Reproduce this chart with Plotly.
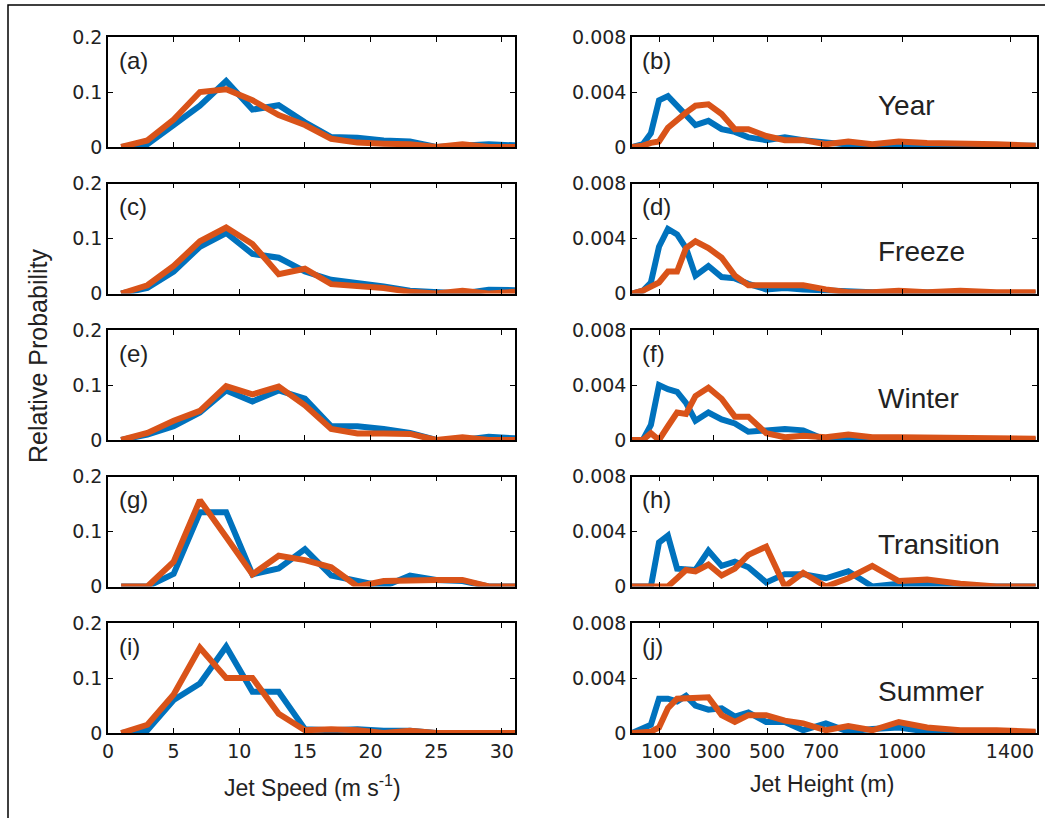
import plotly.graph_objects as go
from plotly.subplots import make_subplots

# ---------------- data ----------------
speed = [1, 3, 5, 7, 9, 11, 13, 15, 17, 19, 21, 23, 25, 27, 29, 31]
height = [0, 40, 70, 100, 133, 167, 200, 235, 283, 332, 381, 431, 497, 566,
          634, 718, 801, 890, 988, 1093, 1216, 1350, 1495]

seasons = ["Year", "Freeze", "Winter", "Transition", "Summer"]
left_labels = ["(a)", "(c)", "(e)", "(g)", "(i)"]
right_labels = ["(b)", "(d)", "(f)", "(h)", "(j)"]

# Jet speed distributions (blue / orange)
speed_blue_year = [0, 0.005, 0.04, 0.075, 0.12, 0.068, 0.076, 0.045, 0.018, 0.017, 0.012, 0.01, 0.0, 0.002, 0.005, 0.003]
speed_orange_year = [0, 0.012, 0.05, 0.1, 0.105, 0.085, 0.058, 0.04, 0.015, 0.008, 0.006, 0.005, 0.0, 0.005, 0.0, 0.0]
speed_blue_freeze = [0, 0.01, 0.04, 0.085, 0.11, 0.072, 0.065, 0.04, 0.025, 0.02, 0.013, 0.005, 0.003, 0.0, 0.007, 0.006]
speed_orange_freeze = [0, 0.015, 0.05, 0.095, 0.12, 0.09, 0.035, 0.045, 0.017, 0.014, 0.01, 0.003, 0.0, 0.005, 0.0, 0.003]
speed_blue_winter = [0, 0.01, 0.025, 0.05, 0.09, 0.07, 0.09, 0.075, 0.025, 0.025, 0.02, 0.013, 0.0, 0.0, 0.006, 0.003]
speed_orange_winter = [0, 0.013, 0.035, 0.053, 0.098, 0.083, 0.097, 0.063, 0.02, 0.012, 0.012, 0.011, 0.0, 0.005, 0.0, 0.0]
speed_blue_trans = [0, 0, 0.023, 0.135, 0.135, 0.022, 0.033, 0.068, 0.02, 0.01, 0.0, 0.02, 0.012, 0.01, 0.0, 0.0]
speed_orange_trans = [0, 0, 0.045, 0.157, 0.09, 0.022, 0.056, 0.048, 0.035, 0.0, 0.01, 0.012, 0.012, 0.012, 0.0, 0.0]
speed_blue_summer = [0, 0.005, 0.06, 0.09, 0.157, 0.075, 0.075, 0.007, 0.005, 0.007, 0.004, 0.004, 0.0, 0.0, 0.0, 0.0]
speed_orange_summer = [0, 0.015, 0.07, 0.155, 0.1, 0.1, 0.035, 0.005, 0.007, 0.005, 0.0, 0.004, 0.0, 0.0, 0.0, 0.0]

# Jet height distributions (blue / orange)
height_blue_year = [0, 0.0002, 0.001, 0.0034, 0.0037, 0.003, 0.0024, 0.0016, 0.0019, 0.0013, 0.0011, 0.0007, 0.0005, 0.0007, 0.0005, 0.0003, 0.0002, 0.0, 0.0001, 0.0001, 0.0001, 0.0001, 0.0001]
height_orange_year = [0, 0.0001, 0.0003, 0.0004, 0.0014, 0.002, 0.0025, 0.003, 0.0031, 0.0024, 0.0013, 0.0013, 0.0008, 0.0005, 0.0005, 0.0002, 0.0004, 0.0002, 0.0004, 0.0003, 0.0002, 0.0002, 0.0001]
height_blue_freeze = [0, 0.0002, 0.0008, 0.0034, 0.0047, 0.0043, 0.0033, 0.0013, 0.002, 0.0012, 0.0011, 0.0007, 0.0003, 0.0004, 0.0003, 0.0002, 0.0001, 0.0001, 0.0001, 0.0001, 0.0001, 0.0001, 0.0]
height_orange_freeze = [0, 0.0002, 0.0005, 0.0008, 0.0016, 0.0016, 0.0033, 0.0038, 0.0033, 0.0026, 0.0013, 0.0006, 0.0006, 0.0006, 0.0006, 0.0003, 0.0001, 0.0001, 0.0002, 0.0001, 0.0002, 0.0001, 0.0001]
height_blue_winter = [0, 0, 0.0011, 0.004, 0.0037, 0.0035, 0.0027, 0.0014, 0.002, 0.0015, 0.0012, 0.0006, 0.0007, 0.0008, 0.0007, 0.0, 0.0002, 0.0, 0.0001, 0.0001, 0.0001, 0.0001, 0.0]
height_orange_winter = [0, 0, 0.0005, 0.0, 0.001, 0.002, 0.0019, 0.0032, 0.0038, 0.003, 0.0017, 0.0017, 0.0005, 0.0002, 0.0003, 0.0002, 0.0004, 0.0002, 0.0002, 0.0002, 0.0001, 0.0002, 0.0001]
height_blue_trans = [0, 0, 0, 0.0032, 0.0037, 0.0013, 0.0012, 0.0012, 0.0026, 0.0015, 0.0018, 0.0014, 0.0003, 0.0009, 0.0009, 0.0006, 0.0011, 0.0, 0.0002, 0.0001, 0.0, 0.0, 0.0]
height_orange_trans = [0, 0, 0, 0, 0, 0.0006, 0.0012, 0.0011, 0.0016, 0.0008, 0.0013, 0.0023, 0.0029, 0.0, 0.001, 0.0, 0.0006, 0.0015, 0.0004, 0.0005, 0.0002, 0.0, 0.0]
height_blue_summer = [0, 0.0003, 0.0006, 0.0025, 0.0025, 0.0023, 0.0027, 0.002, 0.0017, 0.0018, 0.0012, 0.0015, 0.0008, 0.0008, 0.0002, 0.0007, 0.0001, 0.0003, 0.0004, 0.0001, 0.0001, 0.0001, 0.0]
height_orange_summer = [0, 0, 0.0001, 0.0004, 0.0018, 0.0025, 0.0025, 0.0025, 0.0026, 0.0013, 0.0008, 0.0013, 0.0013, 0.0009, 0.0007, 0.0002, 0.0005, 0.0002, 0.0008, 0.0004, 0.0002, 0.0002, 0.0001]

speed_blue = [speed_blue_year, speed_blue_freeze, speed_blue_winter, speed_blue_trans, speed_blue_summer]
speed_orange = [speed_orange_year, speed_orange_freeze, speed_orange_winter, speed_orange_trans, speed_orange_summer]
height_blue = [height_blue_year, height_blue_freeze, height_blue_winter, height_blue_trans, height_blue_summer]
height_orange = [height_orange_year, height_orange_freeze, height_orange_winter, height_orange_trans, height_orange_summer]

speed_ticks = [0, 5, 10, 15, 20, 25, 30]
height_ticks = [100, 300, 500, 700, 1000, 1400]
speed_yticks = [0, 0.1, 0.2]
speed_yticklabels = ["0", "0.1", "0.2"]
height_yticks = [0, 0.004, 0.008]
height_yticklabels = ["0", "0.004", "0.008"]

# ---------------- figure ----------------
W, H = 1045, 818
BLUE = "#0072BD"
ORANGE = "#D95319"
LW = 6

fig = make_subplots(rows=5, cols=2)

row_tops = [37, 183.5, 330, 476.5, 623]
panel_h = 110
left_x = (108 / W, 515 / W)
right_x = (632 / W, 1037 / W)

tickfont = dict(family="DejaVu Sans", size=19, color="#222")

for r in range(5):
    for c in range(2):
        idx = r * 2 + c + 1
        sfx = "" if idx == 1 else str(idx)
        top = row_tops[r]
        ydom = [1 - (top + panel_h) / H, 1 - top / H]
        xdom = left_x if c == 0 else right_x
        if c == 0:
            xs, yb, yo = speed, speed_blue[r], speed_orange[r]
        else:
            xs, yb, yo = height, height_blue[r], height_orange[r]
        fig.add_trace(go.Scatter(x=xs, y=yb, mode="lines",
                                 line=dict(color=BLUE, width=LW), showlegend=False,
                                 hoverinfo="skip"), row=r + 1, col=c + 1)
        fig.add_trace(go.Scatter(x=xs, y=yo, mode="lines",
                                 line=dict(color=ORANGE, width=LW), showlegend=False,
                                 hoverinfo="skip"), row=r + 1, col=c + 1)
        common = dict(showline=True, linecolor="black", linewidth=1.5, mirror="ticks",
                      ticks="inside", ticklen=5, tickcolor="black", tickwidth=1.3,
                      showgrid=False, zeroline=False, tickfont=tickfont, automargin=False)
        if c == 0:
            fig.layout["xaxis" + sfx].update(domain=xdom, range=[0, 31], tickmode="array",
                                             tickvals=speed_ticks,
                                             showticklabels=(r == 4), **common)
            fig.layout["yaxis" + sfx].update(domain=ydom, range=[0, 0.2], tickmode="array",
                                             tickvals=speed_yticks, ticktext=speed_yticklabels,
                                             **common)
        else:
            fig.layout["xaxis" + sfx].update(domain=xdom, range=[0, 1500], tickmode="array",
                                             tickvals=height_ticks,
                                             showticklabels=(r == 4), **common)
            fig.layout["yaxis" + sfx].update(domain=ydom, range=[0, 0.008], tickmode="array",
                                             tickvals=height_yticks, ticktext=height_yticklabels,
                                             **common)
        # panel labels
        lx = 117 if c == 0 else 640
        fig.add_annotation(x=lx / W, y=1 - (top + 23) / H, xref="paper", yref="paper",
                           text=(left_labels[r] if c == 0 else right_labels[r]),
                           showarrow=False, xanchor="left", yanchor="middle",
                           font=dict(family="Liberation Sans, Arial", size=24, color="#222"))
    # season labels
    fig.add_annotation(x=876 / W, y=1 - (row_tops[r] + 68) / H, xref="paper", yref="paper",
                       text=seasons[r], showarrow=False, xanchor="left", yanchor="middle",
                       font=dict(family="Liberation Sans, Arial", size=28, color="#222"))

# axis titles
fig.add_annotation(x=312 / W, y=1 - 786 / H, xref="paper", yref="paper",
                   text="Jet Speed (m s<sup>-1</sup>)", showarrow=False,
                   xanchor="center", yanchor="middle",
                   font=dict(family="Liberation Sans, Arial", size=23, color="#222"))
fig.add_annotation(x=822 / W, y=1 - 784 / H, xref="paper", yref="paper",
                   text="Jet Height (m)", showarrow=False,
                   xanchor="center", yanchor="middle",
                   font=dict(family="Liberation Sans, Arial", size=23, color="#222"))
fig.add_annotation(x=38 / W, y=1 - 356 / H, xref="paper", yref="paper",
                   text="Relative Probability", showarrow=False, textangle=-90,
                   xanchor="center", yanchor="middle",
                   font=dict(family="Liberation Sans, Arial", size=25, color="#222"))

# outer frame
fig.add_shape(type="rect", xref="paper", yref="paper",
              x0=8 / W, y0=-0.05, x1=1.05, y1=1 - 5 / H,
              line=dict(color="black", width=1.5), fillcolor="rgba(0,0,0,0)")

fig.update_layout(width=W, height=H,
                  margin=dict(l=0, r=0, t=0, b=0, pad=0, autoexpand=False),
                  paper_bgcolor="white", plot_bgcolor="white", showlegend=False,
                  hovermode=False)

fig.write_html("out.html")
